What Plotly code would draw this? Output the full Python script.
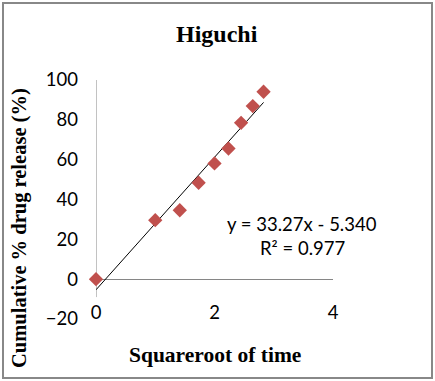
import plotly.graph_objects as go

sqrt_time = [0, 1.0, 1.414, 1.732, 2.0, 2.236, 2.449, 2.646, 2.828]
release = [0, 29.6, 34.6, 48.4, 58.1, 65.6, 78.5, 86.9, 94.1]
slope = 33.27
intercept = -5.340
x_ticks = [0, 2, 4]
y_ticks = [-20, 0, 20, 40, 60, 80, 100]
y_axis_span = [-9, 100]

fit_x = [sqrt_time[0], sqrt_time[-1]]
fit_y = [slope * v + intercept for v in fit_x]

W, H = 435, 381
L, R, T, B = 96, 102, 80, 62
pw, ph = W - L - R, H - T - B

def px(x):
    return (x - L) / pw

def py(y):
    return (H - B - y) / ph

fig = go.Figure()
fig.add_trace(go.Scatter(x=fit_x, y=fit_y, mode="lines",
                         line=dict(color="black", width=1), hoverinfo="skip",
                         cliponaxis=False))
fig.add_trace(go.Scatter(x=sqrt_time, y=release, mode="markers",
                         marker=dict(symbol="diamond", size=11, color="#C0504D"),
                         cliponaxis=False))

sans = "Lato"
serif = "Liberation Serif"
fs = 18.5

def note(x, y, text, font, angle=0):
    fig.add_annotation(x=px(x), y=py(y), xref="paper", yref="paper",
                       xanchor="center", yanchor="middle",
                       text=text, showarrow=False, textangle=angle, font=font)

note(302, 224, "y = 33.27x - 5.340", dict(family=sans, size=fs, color="black"))
note(302, 248, "R² = 0.977", dict(family=sans, size=fs, color="black"))
note(217, 34, "<b>Higuchi</b>", dict(family=serif, size=24, color="black"))
note(215, 355, "<b>Squareroot of time</b>", dict(family=serif, size=21.5, color="black"))
note(19, 228, "<b>Cumulative % drug release (%)</b>",
     dict(family=serif, size=20.5, color="black"), angle=-90)

fig.add_shape(type="rect", xref="paper", yref="paper",
              x0=px(3), x1=px(432), y0=py(378), y1=py(3),
              line=dict(color="#888888", width=2), layer="below")
fig.add_shape(type="line", xref="x", yref="y",
              x0=0, x1=0, y0=y_axis_span[0], y1=y_axis_span[1],
              line=dict(color="#868686", width=1), layer="below")

fig.update_layout(
    width=W, height=H,
    margin=dict(l=L, r=R, t=T, b=B),
    paper_bgcolor="white", plot_bgcolor="white",
    showlegend=False,
    xaxis=dict(range=[0, 4], tickvals=x_ticks, showgrid=False, showline=False,
               zeroline=False,
               ticks="", ticklabelposition="inside", ticklabeloverflow="allow",
               ticklabelstandoff=-7,
               tickfont=dict(family=sans, size=fs, color="black")),
    yaxis=dict(range=[-20, 100], tickvals=y_ticks, showgrid=False, showline=False,
               zeroline=True, zerolinecolor="#868686", zerolinewidth=1,
               ticks="", ticklabelstandoff=17,
               tickfont=dict(family=sans, size=fs, color="black")),
)

fig.write_html("out.html")
